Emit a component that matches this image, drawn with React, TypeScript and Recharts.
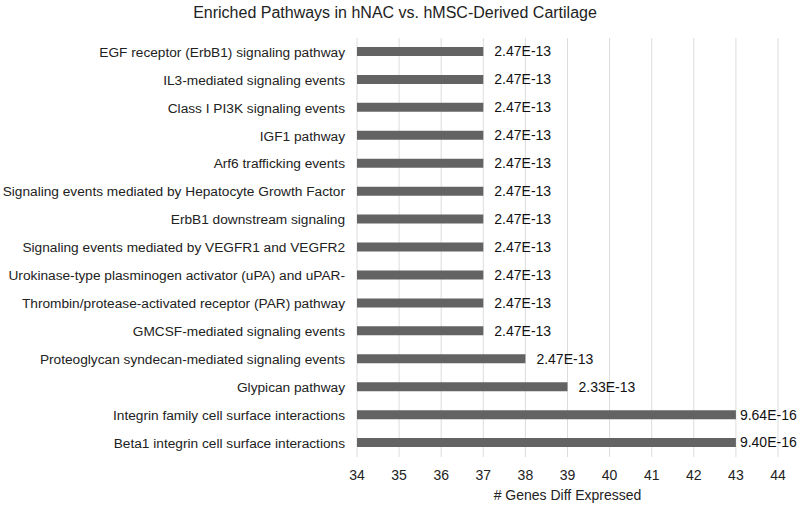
import { BarChart, Bar, XAxis, YAxis, CartesianGrid, LabelList } from "recharts";

const pathways = [
  "EGF receptor (ErbB1) signaling pathway",
  "IL3-mediated signaling events",
  "Class I PI3K signaling events",
  "IGF1 pathway",
  "Arf6 trafficking events",
  "Signaling events mediated by Hepatocyte Growth Factor",
  "ErbB1 downstream signaling",
  "Signaling events mediated by VEGFR1 and VEGFR2",
  "Urokinase-type plasminogen activator (uPA) and uPAR-",
  "Thrombin/protease-activated receptor (PAR) pathway",
  "GMCSF-mediated signaling events",
  "Proteoglycan syndecan-mediated signaling events",
  "Glypican pathway",
  "Integrin family cell surface interactions",
  "Beta1 integrin cell surface interactions",
];

const genes = [37, 37, 37, 37, 37, 37, 37, 37, 37, 37, 37, 38, 39, 43, 43];

const pvalues = [
  "2.47E-13", "2.47E-13", "2.47E-13", "2.47E-13", "2.47E-13",
  "2.47E-13", "2.47E-13", "2.47E-13", "2.47E-13", "2.47E-13",
  "2.47E-13", "2.47E-13", "2.33E-13", "9.64E-16", "9.40E-16",
];

const xTicks = [34, 35, 36, 37, 38, 39, 40, 41, 42, 43, 44];

const data = pathways.map((name, i) => ({
  name,
  genes: genes[i],
  pval: pvalues[i],
}));

const font = "'Liberation Sans', Arial, sans-serif";

// single-line category labels (recharts would wrap the long ones)
const CategoryTick = (props: any) => {
  const { x, y, payload } = props;
  return (
    <text
      x={x}
      y={y}
      dy="0.35em"
      textAnchor="end"
      fill="#222"
      fontSize={13.7}
      fontFamily={font}
    >
      {payload.value}
    </text>
  );
};

// labels sit a bit closer to the long bars, like the original
const PvalLabel = (props: any) => {
  const { x, y, width, height, value, index } = props;
  const gap = genes[index] >= 43 ? 4 : 11;
  return (
    <text
      x={x + width + gap}
      y={y + height / 2}
      dy="0.35em"
      fill="#111"
      fontSize={14}
      fontFamily={font}
    >
      {value}
    </text>
  );
};

export default function App() {
  return (
    <div
      style={{
        position: "absolute",
        left: 0,
        top: 0,
        width: 800,
        height: 506,
        background: "#fff",
        fontFamily: font,
      }}
    >
      <div
        style={{
          position: "absolute",
          top: 4,
          left: 0,
          width: 790,
          textAlign: "center",
          fontSize: 16,
          color: "#222",
        }}
      >
        Enriched Pathways in hNAC vs. hMSC-Derived Cartilage
      </div>
      <BarChart
        width={800}
        height={506}
        data={data}
        layout="vertical"
        margin={{ top: 38, right: 22, bottom: 0, left: 0 }}
      >
        <CartesianGrid horizontal={false} stroke="#dcdcdc" />
        <XAxis
          type="number"
          dataKey="genes"
          domain={[34, 44]}
          ticks={xTicks}
          allowDataOverflow
          axisLine={false}
          tickLine={false}
          tickSize={6}
          tickMargin={7}
          height={49}
          tick={{ fill: "#222", fontSize: 14, fontFamily: font }}
          label={{
            value: "# Genes Diff Expressed",
            position: "insideBottom",
            offset: 6,
            fill: "#222",
            fontSize: 14,
            fontFamily: font,
          }}
        />
        <YAxis
          type="category"
          dataKey="name"
          width={357}
          axisLine={false}
          tickLine={false}
          tickSize={6}
          tickMargin={6}
          interval={0}
          tick={<CategoryTick />}
        />
        <Bar dataKey="genes" fill="#636363" barSize={9} isAnimationActive={false}>
          <LabelList dataKey="pval" content={<PvalLabel />} />
        </Bar>
      </BarChart>
    </div>
  );
}
